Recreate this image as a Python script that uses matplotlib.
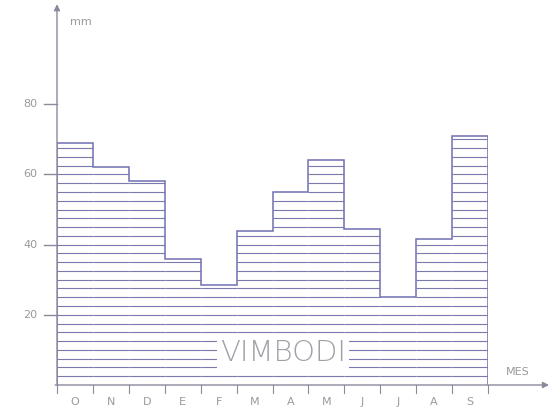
import numpy as np
import matplotlib.pyplot as plt

# monthly rainfall (mm), hydrological year Oct -> Sep
months = ['O', 'N', 'D', 'E', 'F', 'M', 'A', 'M', 'J', 'J', 'A', 'S']
rain = [69, 62, 58, 36, 28.5, 44, 55, 64, 44.5, 25, 41.5, 71]
yticks = [20, 40, 60, 80]

line_col = '#6f6fb4'
hatch_col = '#7a7aae'
axis_col = '#8a8a9c'
text_col = '#9a9a9a'

fig = plt.figure(figsize=(5.51, 4.16), dpi=100)
ax = fig.add_axes([57 / 551, 31 / 416, 431 / 551, 351 / 416])
ax.set_xlim(0, 12)
ax.set_ylim(0, 100)
ax.axis('off')

x = np.arange(len(months))
edges = np.arange(len(months) + 1)
# horizontal hatching every 2.5 mm
for xi, h in zip(x, rain):
    levels = np.arange(2.5, h, 2.5)
    ax.hlines(levels, xi, xi + 1, color=hatch_col, linewidth=0.8)
# stepped outline
ax.stairs(rain, edges, baseline=0, fill=False, color=line_col, linewidth=1.1)

# axes with arrows
ax.annotate('', xy=(0, 108.5), xytext=(0, 0),
            arrowprops=dict(arrowstyle='-|>', color=axis_col, lw=1.0,
                            mutation_scale=9, shrinkA=0, shrinkB=0),
            annotation_clip=False)
ax.annotate('', xy=(13.7, 0), xytext=(-0.05, 0),
            arrowprops=dict(arrowstyle='-|>', color=axis_col, lw=1.0,
                            mutation_scale=9, shrinkA=0, shrinkB=0),
            annotation_clip=False)

# y ticks and labels
for v in yticks:
    ax.plot([-0.35, 0], [v, v], color=axis_col, lw=1.0, clip_on=False)
    ax.text(-0.55, v, str(v), ha='right', va='center', color=text_col,
            fontsize=8, family='DejaVu Sans')

# x ticks at month boundaries and labels at centers
for b in edges:
    ax.plot([b, b], [0, -2.2], color=axis_col, lw=0.8, clip_on=False)
for xi, m in zip(x, months):
    ax.text(xi + 0.5, -4.8, m, ha='center', va='center', color=text_col,
            fontsize=8, family='DejaVu Sans')

ax.text(0.35, 103.5, 'mm', ha='left', va='center', color=text_col, fontsize=8)
ax.text(12.5, 2.3, 'MES', ha='left', va='bottom', color=text_col, fontsize=8)

ax.text(6.3, 9.0, 'VIMBODI', ha='center', va='center', color='#a0a0a8',
        fontsize=21, family=['Liberation Sans Narrow', 'DejaVu Sans'],
        fontweight='light',
        bbox=dict(facecolor='white', edgecolor='none', pad=2))

fig.savefig('out.png', dpi=100)
